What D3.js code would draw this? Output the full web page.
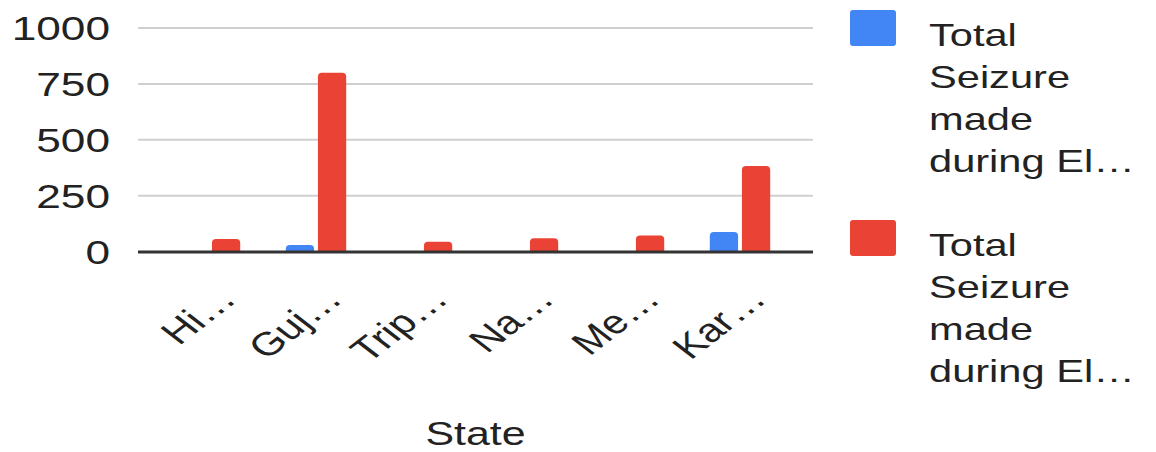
<!DOCTYPE html>
<html>
<head>
<meta charset="utf-8">
<script src="https://cdn.jsdelivr.net/npm/d3@7/dist/d3.min.js"></script>
<style>
  html, body { margin: 0; padding: 0; background: #fff; }
  svg { display: block; font-family: "Liberation Sans", Arial, sans-serif; }
</style>
</head>
<body>
<svg id="chart" width="1156" height="452"></svg>
<script>
// Seizures by state, two election periods
const states = ["Hi…", "Guj…", "Trip…", "Na…", "Me…", "Kar…"];
const seriesNames = ["Total Seizure made during El…", "Total Seizure made during El…"];
const legendLines = [
  ["Total", "Seizure", "made", "during El…"],
  ["Total", "Seizure", "made", "during El…"]
];
const seizuresA = [0, 29, 0, 0, 0, 87];
const seizuresB = [56, 800, 44, 59, 72, 382];
const yTicks = [0, 250, 500, 750, 1000];
const axisTitle = "State";
const colors = ["#4285F4", "#EA4335"];

// text in this chart is set wide
const stretch = 1.3;

const svg = d3.select("#chart");
const plot = { left: 138, right: 813, top: 28, bottom: 251.5 };

const y = d3.scaleLinear().domain([0, 1000]).range([plot.bottom, plot.top]);
const x = d3.scaleBand().domain(states).range([157, 793]).paddingInner(0.43).paddingOuter(0.215);
const xs = d3.scaleBand().domain([0, 1]).range([0, x.bandwidth()]).paddingInner(0.12);

// gridlines
svg.append("g").selectAll("line").data(yTicks.filter(d => d !== 0)).join("line")
  .attr("x1", plot.left).attr("x2", plot.right)
  .attr("y1", d => y(d)).attr("y2", d => y(d))
  .attr("stroke", "#cfcfcf").attr("stroke-width", 2);

// y tick labels
svg.append("g").selectAll("text").data(yTicks).join("text")
  .attr("transform", d => `translate(110,${y(d) + 12}) scale(${stretch},1)`)
  .attr("text-anchor", "end")
  .attr("font-size", 34)
  .attr("fill", "#222")
  .text(d => d);

// bars with rounded tops
function barPath(x0, w, yTop, yBase) {
  const h = yBase - yTop;
  if (h <= 0) return "";
  const r = Math.min(4, h, w / 2);
  return `M${x0},${yBase}V${yTop + r}Q${x0},${yTop} ${x0 + r},${yTop}H${x0 + w - r}Q${x0 + w},${yTop} ${x0 + w},${yTop + r}V${yBase}Z`;
}
const rows = states.map((s, i) => ({ s, vals: [seizuresA[i], seizuresB[i]] }));
const groups = svg.append("g").selectAll("g").data(rows).join("g")
  .attr("transform", d => `translate(${x(d.s)},0)`);
groups.selectAll("path").data(d => d.vals.map((v, k) => ({ v, k }))).join("path")
  .attr("d", d => barPath(xs(d.k), xs.bandwidth(), y(d.v), y(0)))
  .attr("fill", d => colors[d.k]);

// baseline
svg.append("line")
  .attr("x1", plot.left).attr("x2", plot.right)
  .attr("y1", y(0) + 0.5).attr("y2", y(0) + 0.5)
  .attr("stroke", "#333").attr("stroke-width", 3);

// x labels, rotated
svg.append("g").selectAll("text").data(states).join("text")
  .attr("transform", d => `translate(${x(d) + x.bandwidth() / 2 + 28},301) scale(${stretch},1) rotate(-45)`)
  .attr("text-anchor", "end")
  .attr("font-size", 33)
  .attr("fill", "#222")
  .text(d => d);

// axis title
svg.append("text")
  .attr("transform", `translate(${(plot.left + plot.right) / 2},445) scale(${stretch},1)`)
  .attr("text-anchor", "middle")
  .attr("font-size", 33)
  .attr("fill", "#222")
  .text(axisTitle);

// legend
const legend = svg.append("g").selectAll("g").data(seriesNames).join("g")
  .attr("transform", (d, i) => `translate(850,${10 + i * 210})`);
legend.append("rect")
  .attr("width", 46).attr("height", 36).attr("rx", 3)
  .attr("fill", (d, i) => colors[i]);
legend.each(function (d, i) {
  const g = d3.select(this);
  g.selectAll("text").data(legendLines[i]).join("text")
    .attr("transform", (t, j) => `translate(79,${36 + j * 42}) scale(${stretch},1)`)
    .attr("font-size", 32)
    .attr("fill", "#222")
    .text(t => t);
});
</script>
</body>
</html>
